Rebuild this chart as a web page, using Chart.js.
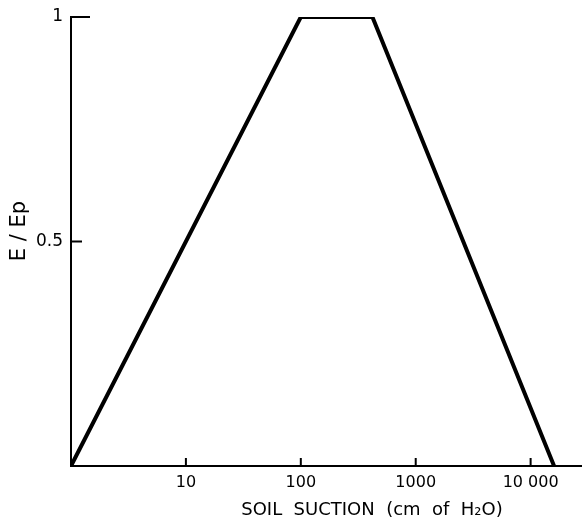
<!DOCTYPE html>
<html>
<head>
<meta charset="utf-8">
<script src="https://cdn.jsdelivr.net/npm/chart.js@4"></script>
<style>
html,body{margin:0;padding:0;background:#fff;}
#wrap{width:582px;height:521px;position:relative;}
</style>
</head>
<body>
<div id="wrap"><canvas id="c" width="582" height="521"></canvas></div>
<script>
// Data
const suction = [1, 100, 420, 16000];      // cm of H2O
const ratio = [0, 1, 1, 0];               // E / Ep
const xTicks = [10, 100, 1000, 10000];
const xTickLabels = ['10', '100', '1000', '10 000'];
const yTicks = [0.5, 1];
const yTickLabels = ['0.5', '1'];
const xTitle = 'SOIL  SUCTION  (cm  of  H\u2082O)';
const yTitle = 'E / Ep';

const FONT = "'DejaVu Sans', sans-serif";

const inwardTicks = {
  id: 'inwardTicks',
  afterDraw(chart) {
    const {ctx, scales: {x, y}} = chart;
    ctx.save();
    ctx.strokeStyle = '#000';
    ctx.lineWidth = 2;
    xTicks.forEach(v => {
      const px = x.getPixelForValue(v);
      ctx.beginPath();
      ctx.moveTo(px, y.bottom);
      ctx.lineTo(px, y.bottom - 8);
      ctx.stroke();
    });
    const lens = [11, 19];
    yTicks.forEach((v, i) => {
      const py = y.getPixelForValue(v);
      ctx.beginPath();
      ctx.moveTo(x.left, py);
      ctx.lineTo(x.left + lens[i], py);
      ctx.stroke();
    });
    // titles
    ctx.fillStyle = '#000';
    ctx.font = '18px ' + FONT;
    ctx.textAlign = 'center';
    ctx.textBaseline = 'middle';
    ctx.fillText(xTitle, 372, 510);
    ctx.font = '21px ' + FONT;
    ctx.translate(20, 231);
    ctx.rotate(-Math.PI / 2);
    ctx.fillText(yTitle, 0, 0);
    ctx.restore();
  }
};

new Chart(document.getElementById('c'), {
  type: 'line',
  data: {
    datasets: [{
      data: suction.map((s, i) => ({x: s, y: ratio[i]})),
      borderColor: '#000',
      borderWidth: 4,
      pointRadius: 0,
      tension: 0,
      fill: false,
      borderJoinStyle: 'miter'
    }]
  },
  options: {
    responsive: false,
    animation: false,
    layout: {padding: {top: 17, left: 0, right: 0, bottom: 0}},
    plugins: {legend: {display: false}, tooltip: {enabled: false}},
    scales: {
      x: {
        type: 'logarithmic',
        min: 1,
        max: 28000,
        afterBuildTicks(s) { s.ticks = xTicks.map(v => ({value: v})); },
        afterFit(s) { s.height = 55; s.paddingLeft = 0; s.paddingRight = 0; },
        ticks: {
          color: '#000',
          font: {family: FONT, size: 16},
          padding: 7,
          maxRotation: 0,
          autoSkip: false,
          callback(v, i) { return xTickLabels[i]; }
        },
        grid: {display: false, drawTicks: false},
        border: {display: true, color: '#000', width: 2}
      },
      y: {
        type: 'linear',
        min: 0,
        max: 1,
        afterBuildTicks(s) { s.ticks = yTicks.map(v => ({value: v})); },
        afterFit(s) { s.width = 71; s.paddingTop = 0; s.paddingBottom = 0; },
        ticks: {
          color: '#000',
          font: {family: FONT, size: 17},
          padding: 8,
          autoSkip: false,
          callback(v, i) { return yTickLabels[i]; }
        },
        grid: {display: false, drawTicks: false},
        border: {display: true, color: '#000', width: 2}
      }
    }
  },
  plugins: [inwardTicks]
});
</script>
</body>
</html>
